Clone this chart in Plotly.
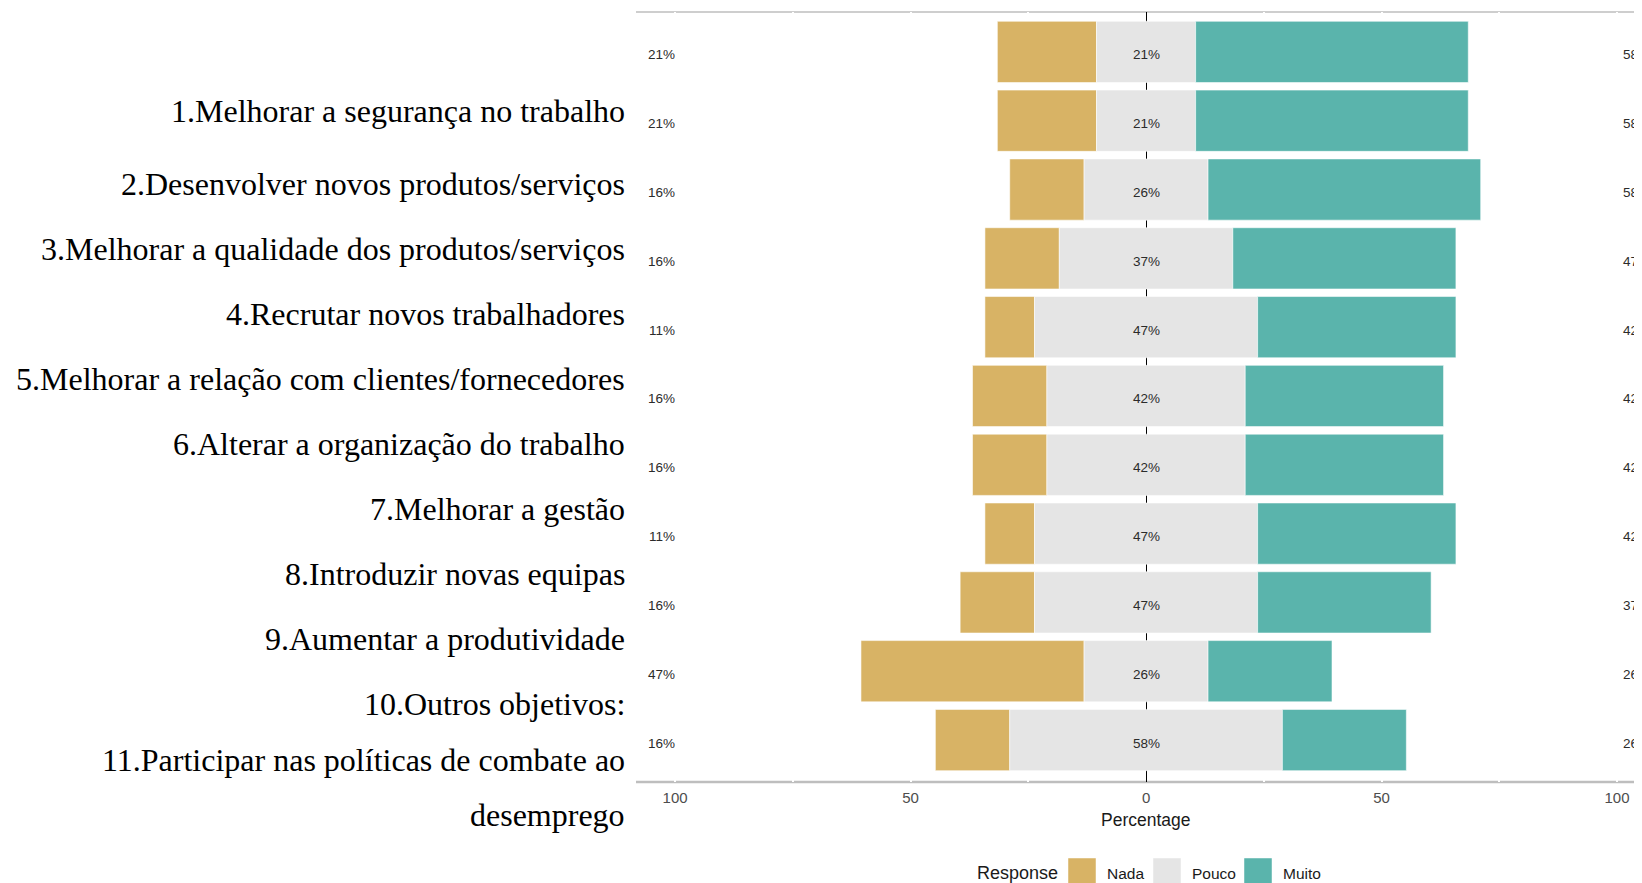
import plotly.graph_objects as go

# ---------------- data ----------------
items = [
    "1.Melhorar a segurança no trabalho",
    "2.Desenvolver novos produtos/serviços",
    "3.Melhorar a qualidade dos produtos/serviços",
    "4.Recrutar novos trabalhadores",
    "5.Melhorar a relação com clientes/fornecedores",
    "6.Alterar a organização do trabalho",
    "7.Melhorar a gestão",
    "8.Introduzir novas equipas",
    "9.Aumentar a produtividade",
    "10.Outros objetivos:",
    "11.Participar nas políticas de combate ao<br>desemprego",
]
row_keys = [f"r{i}" for i in range(len(items))]
nada = [21.05, 21.05, 15.79, 15.79, 10.53, 15.79, 15.79, 10.53, 15.79, 47.37, 15.79]
pouco = [21.05, 21.05, 26.32, 36.84, 47.37, 42.11, 42.11, 47.37, 47.37, 26.32, 57.89]
muito = [57.89, 57.89, 57.89, 47.37, 42.11, 42.11, 42.11, 42.11, 36.84, 26.32, 26.32]
responses = ["Nada", "Pouco", "Muito"]
tick_vals = [-100, -50, 0, 50, 100]
tick_text = ["100", "50", "0", "50", "100"]

# ---------------- style ----------------
colors = {"Nada": "#D8B365", "Pouco": "#E5E5E5", "Muito": "#5AB4AC"}
OFF = 8  # page body margin
W, H = 1642 - OFF, 883 - OFF
ML, MR, MT, MB = 636 - OFF, 0, 12 - OFF, 101
PH = H - MT - MB
SANS = "Liberation Sans, Arial, sans-serif"
SERIF = "Liberation Serif, Times New Roman, serif"
bar_w = 0.89
edge = dict(color="rgba(255,255,255,0.7)", width=0.8)
pct_font = dict(family=SANS, size=13.5, color="#2b2b2b")
LOW_X, HIGH_X = -102.8, 104.1


def fmt(v):
    return f"{round(v)}%"


fig = go.Figure()
fig.add_trace(go.Bar(
    y=row_keys, x=nada, base=[-(n + p / 2) for n, p in zip(nada, pouco)],
    orientation="h", width=bar_w, marker=dict(color=colors["Nada"], line=edge),
    name="Nada", showlegend=False, hoverinfo="skip"))
fig.add_trace(go.Bar(
    y=row_keys, x=pouco, base=[-p / 2 for p in pouco],
    orientation="h", width=bar_w, marker=dict(color=colors["Pouco"], line=edge),
    name="Pouco", showlegend=False, hoverinfo="skip"))
fig.add_trace(go.Bar(
    y=row_keys, x=muito, base=[p / 2 for p in pouco],
    orientation="h", width=bar_w, marker=dict(color=colors["Muito"], line=edge),
    name="Muito", showlegend=False, hoverinfo="skip"))


def py(pix):
    """page pixel y -> paper y"""
    return (H - MB - (pix - OFF)) / PH


def px(pix):
    """page pixel x -> paper x"""
    return (pix - OFF - ML) / (W - ML - MR)


annotations = []
# percentage labels (low, neutral, high) in data coordinates
for key, n, p, m in zip(row_keys, nada, pouco, muito):
    for xx, val in ((LOW_X, n), (0, p), (HIGH_X, m)):
        annotations.append(dict(text=fmt(val), xref="x", yref="y", x=xx, y=key,
                                xanchor="center", yanchor="middle", yshift=-3,
                                showarrow=False, font=pct_font))

shapes = []
# grey panel border lines (top and bottom)
shapes.append(dict(type="line", xref="paper", yref="paper", x0=0, x1=1, y0=1, y1=1,
                   line=dict(color="#BEBEBE", width=1.3), layer="below"))
shapes.append(dict(type="line", xref="paper", yref="paper", x0=0, x1=1, y0=0, y1=0,
                   line=dict(color="#BEBEBE", width=2.5), layer="below"))

# left item labels (separate text block)
label_lines = []
for it in items:
    label_lines.extend(it.split("<br>"))
label_y = [110, 182.5, 247.5, 312.5, 377.5, 442.5, 508, 573, 638, 703, 759, 814]
for txt, yy in zip(label_lines, label_y):
    annotations.append(dict(text=txt, xref="paper", yref="paper", x=px(626.5), y=py(yy + 1),
                            xanchor="right", yanchor="middle", showarrow=False,
                            font=dict(family=SERIF, size=32, color="#000000")))

# axis title
annotations.append(dict(text="Percentage", xref="paper", yref="paper", x=px(1146), y=py(820),
                        xanchor="center", yanchor="middle", showarrow=False,
                        font=dict(family=SANS, size=17.5, color="#1a1a1a")))

# manual legend
annotations.append(dict(text="Response", xref="paper", yref="paper", x=px(975), y=py(873),
                        xanchor="left", yanchor="middle", showarrow=False,
                        font=dict(family=SANS, size=18, color="#1a1a1a")))
key_x = {"Nada": 1068, "Pouco": 1153, "Muito": 1244}
for r in responses:
    x0 = key_x[r]
    shapes.append(dict(type="rect", xref="paper", yref="paper", x0=px(x0), x1=px(x0 + 28),
                       y0=py(886), y1=py(858), fillcolor=colors[r],
                       line=dict(color="rgba(255,255,255,0.6)", width=0.8)))
    annotations.append(dict(text=r, xref="paper", yref="paper", x=px(x0 + 37), y=py(873),
                            xanchor="left", yanchor="middle", showarrow=False,
                            font=dict(family=SANS, size=15.5, color="#1a1a1a")))

fig.update_layout(
    width=W, height=H,
    margin=dict(l=ML, r=MR, t=MT, b=MB, pad=0),
    paper_bgcolor="white", plot_bgcolor="white",
    barmode="overlay",
    shapes=shapes, annotations=annotations,
    xaxis=dict(range=[-108.3, 105.3], tickvals=tick_vals, ticktext=tick_text,
               tickfont=dict(family=SANS, size=15, color="#4D4D4D"),
               ticklabelstandoff=5,
               showgrid=True, gridcolor="white", gridwidth=1.5,
               minor=dict(tickvals=[-75, -25, 25, 75], showgrid=True, gridcolor="white", gridwidth=1.5),
               zeroline=True, zerolinecolor="black", zerolinewidth=1,
               showline=False, ticks="", fixedrange=True),
    yaxis=dict(type="category", categoryarray=row_keys, range=[10.61, -0.58],
               showticklabels=False, showgrid=False, zeroline=False, fixedrange=True),
    font=dict(family=SANS),
)

fig.write_html("out.html")
